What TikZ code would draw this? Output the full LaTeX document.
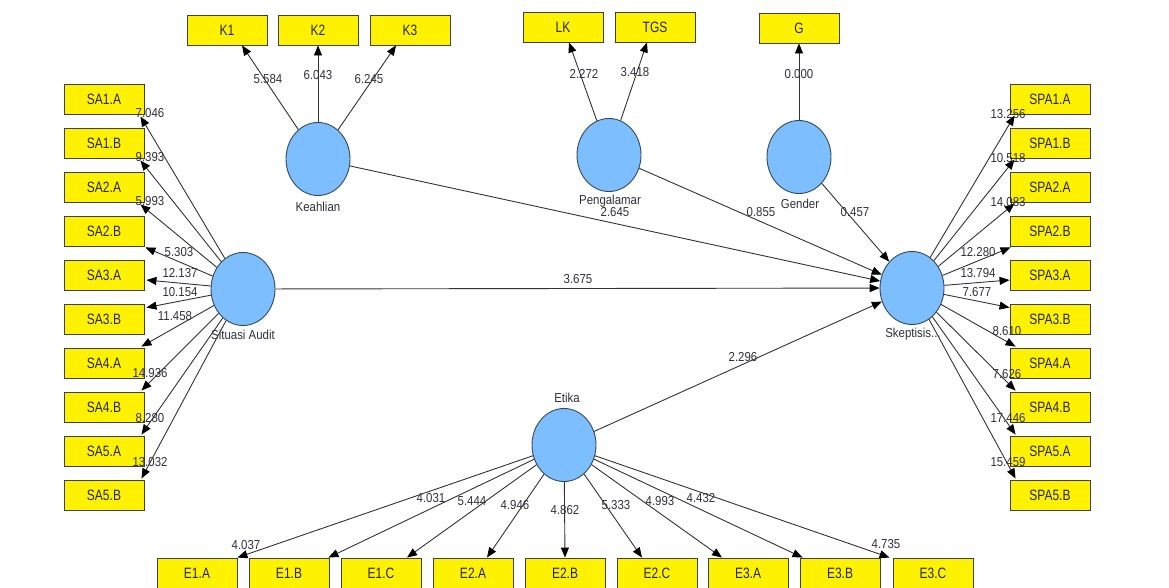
\documentclass[tikz,border=0pt]{standalone}
\usepackage{fontspec}
\setmainfont{Liberation Sans}
\newfontfamily\boxfont[FakeStretch=0.8]{Liberation Sans}
\newfontfamily\labfont[FakeStretch=0.88]{Liberation Sans}
\usetikzlibrary{shapes.geometric,arrows.meta}
\definecolor{boxborder}{HTML}{404040}
\definecolor{circfill}{HTML}{7DBEFF}
\definecolor{circborder}{HTML}{34495E}
\definecolor{edgecol}{HTML}{333333}
\definecolor{labcol}{HTML}{30303C}
\tikzset{
  ind/.style={draw=boxborder, fill=yellow, line width=0.9pt, minimum width=80pt, minimum height=30pt, inner sep=0pt, text=black!85, font=\boxfont\fontsize{15}{16}\selectfont},
  lat/.style={ellipse, draw=circborder, fill=circfill, line width=0.9pt, minimum width=64pt, minimum height=73pt, inner sep=0pt},
  arr/.style={draw=edgecol, line width=0.9pt, -{Triangle[length=10pt,width=8pt,fill=black,color=black]}},
  val/.style={inner sep=0pt, text=labcol, font=\labfont\fontsize{13}{14}\selectfont},
  lname/.style={inner sep=0pt, text=labcol, font=\labfont\fontsize{13}{14}\selectfont}
}
\begin{document}
\begin{tikzpicture}[x=1pt,y=-1pt]
\useasboundingbox[fill=white] (0,0) rectangle (1169,587);
% latent variables
\node[lat] (Kea) at (318,159) {};
\node[lat] (Pen) at (609,155) {};
\node[lat] (Gen) at (799,157) {};
\node[lat] (Sit) at (243,289) {};
\node[lat] (Skp) at (912,288) {};
\node[lat] (Eti) at (564,445) {};
\node[lname] (nKea) at (318,207) {Keahlian};
\node[lname] (nPen) at (610,201) {Pengalamar};
\node[lname] (nGen) at (800,204) {Gender};
\node[lname] (nSit) at (243,335) {Situasi Audit};
\node[lname] (nSkp) at (913,334) {Skeptisis...};
\node[lname] (nEti) at (567,398) {Etika};
% top indicators
\node[ind] (K1) at (227,30) {K1};
\node[ind] (K2) at (318,30) {K2};
\node[ind] (K3) at (410,30) {K3};
\node[ind] (LK) at (563,27) {LK};
\node[ind] (TGS) at (655,27) {TGS};
\node[ind] (G) at (799,28) {G};
% left indicators
\node[ind] (SA1A) at (104,99) {SA1.A};
\node[ind] (SA1B) at (104,143) {SA1.B};
\node[ind] (SA2A) at (104,187) {SA2.A};
\node[ind] (SA2B) at (104,231) {SA2.B};
\node[ind] (SA3A) at (104,275) {SA3.A};
\node[ind] (SA3B) at (104,319) {SA3.B};
\node[ind] (SA4A) at (104,363) {SA4.A};
\node[ind] (SA4B) at (104,407) {SA4.B};
\node[ind] (SA5A) at (104,451) {SA5.A};
\node[ind] (SA5B) at (104,495) {SA5.B};
% right indicators
\node[ind] (SPA1A) at (1050,99) {SPA1.A};
\node[ind] (SPA1B) at (1050,143) {SPA1.B};
\node[ind] (SPA2A) at (1050,187) {SPA2.A};
\node[ind] (SPA2B) at (1050,231) {SPA2.B};
\node[ind] (SPA3A) at (1050,275) {SPA3.A};
\node[ind] (SPA3B) at (1050,319) {SPA3.B};
\node[ind] (SPA4A) at (1050,363) {SPA4.A};
\node[ind] (SPA4B) at (1050,407) {SPA4.B};
\node[ind] (SPA5A) at (1050,451) {SPA5.A};
\node[ind] (SPA5B) at (1050,495) {SPA5.B};
% bottom indicators
\node[ind] (E1A) at (197,573) {E1.A};
\node[ind] (E1B) at (289,573) {E1.B};
\node[ind] (E1C) at (381,573) {E1.C};
\node[ind] (E2A) at (473,573) {E2.A};
\node[ind] (E2B) at (565,573) {E2.B};
\node[ind] (E2C) at (657,573) {E2.C};
\node[ind] (E3A) at (748,573) {E3.A};
\node[ind] (E3B) at (840,573) {E3.B};
\node[ind] (E3C) at (933,573) {E3.C};
% top edges
\draw[arr] (Kea) -- ([xshift=15pt]K1.south);
\draw[arr] (Kea) -- (K2.south);
\draw[arr] (Kea) -- ([xshift=-14pt]K3.south);
\draw[arr] (Pen) -- ([xshift=6pt]LK.south);
\draw[arr] (Pen) -- ([xshift=-8pt]TGS.south);
\draw[arr] (Gen) -- (G.south);
% left edges
\draw[arr] (Sit) -- ([xshift=-4pt,yshift=-2pt]SA1A.south east);
\draw[arr] (Sit) -- ([xshift=-4pt,yshift=-2pt]SA1B.south east);
\draw[arr] (Sit) -- ([xshift=-4pt,yshift=-2pt]SA2A.south east);
\draw[arr] (Sit) -- ([xshift=1pt,yshift=-1pt]SA2B.south east);
\draw[arr] (Sit) -- ([xshift=2pt,yshift=-5pt]SA3A.east);
\draw[arr] (Sit) -- ([xshift=2pt,yshift=-4pt]SA3B.north east);
\draw[arr] (Sit) -- ([xshift=-3pt,yshift=1pt]SA4A.north east);
\draw[arr] (Sit) -- ([xshift=-3pt,yshift=1pt]SA4B.north east);
\draw[arr] (Sit) -- ([xshift=-3pt,yshift=1pt]SA5A.north east);
\draw[arr] (Sit) -- ([xshift=-3pt,yshift=1pt]SA5B.north east);
% right edges
\draw[arr] (Skp) -- ([xshift=5pt,yshift=-1pt]SPA1A.south west);
\draw[arr] (Skp) -- ([xshift=5pt,yshift=-1pt]SPA1B.south west);
\draw[arr] (Skp) -- ([xshift=5pt,yshift=-1pt]SPA2A.south west);
\draw[arr] (Skp) -- ([xshift=1pt,yshift=-1pt]SPA2B.south west);
\draw[arr] (Skp) -- ([yshift=-5pt]SPA3A.west);
\draw[arr] (Skp) -- ([yshift=-4pt]SPA3B.north west);
\draw[arr] (Skp) -- ([xshift=6pt,yshift=1pt]SPA4A.north west);
\draw[arr] (Skp) -- ([xshift=6pt,yshift=1pt]SPA4B.north west);
\draw[arr] (Skp) -- ([xshift=6pt,yshift=1pt]SPA5A.north west);
\draw[arr] (Skp) -- ([xshift=6pt,yshift=1pt]SPA5B.north west);
% bottom edges
\draw[arr] (Eti) -- (E1A.north east);
\draw[arr] (Eti) -- ([xshift=-1pt]E1B.north east);
\draw[arr] (Eti) -- ([xshift=26pt]E1C.north);
\draw[arr] (Eti) -- ([xshift=14pt]E2A.north);
\draw[arr] (Eti) -- (E2B.north);
\draw[arr] (Eti) -- ([xshift=-15pt]E2C.north);
\draw[arr] (Eti) -- ([xshift=-26pt]E3A.north);
\draw[arr] (Eti) -- ([xshift=3pt]E3B.north west);
\draw[arr] (Eti) -- ([xshift=-3pt]E3C.north west);
% structural edges
\draw[arr] (Kea) -- (Skp);
\draw[arr] (Pen) -- (Skp);
\draw[arr] (Gen) -- (Skp);
\draw[arr] (Sit) -- (Skp);
\draw[arr] (Eti) -- (Skp);
% values
\node[val] (vK1) at (268,79) {5.584};
\node[val] (vK2) at (318,75) {6.043};
\node[val] (vK3) at (369,79) {6.245};
\node[val] (vLK) at (584,74) {2.272};
\node[val] (vTGS) at (635,72) {3.418};
\node[val] (vG) at (799,74) {0.000};
\node[val] (vKS) at (615,212) {2.645};
\node[val] (vPS) at (761,212) {0.855};
\node[val] (vGS) at (855,212) {0.457};
\node[val] (vSS) at (578,279) {3.675};
\node[val] (vES) at (743,357) {2.296};
\node[val] (vSA1A) at (150,113) {7.046};
\node[val] (vSA1B) at (150,157) {9.393};
\node[val] (vSA2A) at (150,201) {5.993};
\node[val] (vSA2B) at (179,252) {5.303};
\node[val] (vSA3A) at (180,273) {12.137};
\node[val] (vSA3B) at (180,292) {10.154};
\node[val] (vSA4A) at (175,316) {11.458};
\node[val] (vSA4B) at (150,373) {14.936};
\node[val] (vSA5A) at (150,418) {8.280};
\node[val] (vSA5B) at (150,462) {13.032};
\node[val] (vSPA1A) at (1008,114) {13.256};
\node[val] (vSPA1B) at (1008,158) {10.518};
\node[val] (vSPA2A) at (1008,202) {14.083};
\node[val] (vSPA2B) at (978,252) {12.280};
\node[val] (vSPA3A) at (978,273) {13.794};
\node[val] (vSPA3B) at (977,292) {7.677};
\node[val] (vSPA4A) at (1007,331) {8.610};
\node[val] (vSPA4B) at (1007,374) {7.626};
\node[val] (vSPA5A) at (1008,418) {17.446};
\node[val] (vSPA5B) at (1008,462) {15.459};
\node[val] (vE1A) at (246,545) {4.037};
\node[val] (vE1B) at (431,498) {4.031};
\node[val] (vE1C) at (472,501) {5.444};
\node[val] (vE2A) at (515,505) {4.946};
\node[val] (vE2B) at (565,510) {4.862};
\node[val] (vE2C) at (616,505) {5.333};
\node[val] (vE3A) at (660,501) {4.993};
\node[val] (vE3B) at (701,498) {4.432};
\node[val] (vE3C) at (886,544) {4.735};
\end{tikzpicture}
\end{document}
